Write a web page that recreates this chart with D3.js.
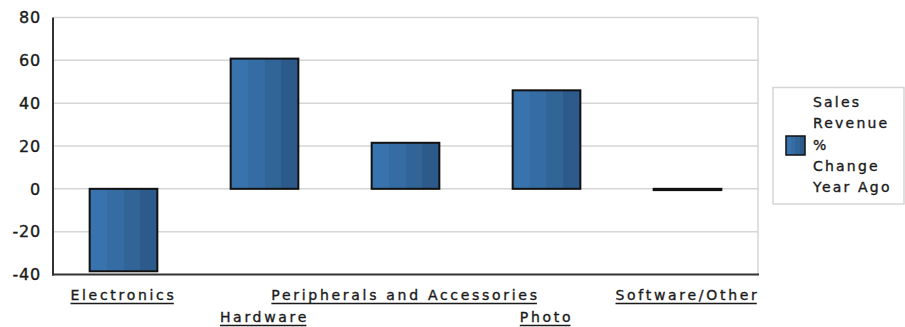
<!DOCTYPE html>
<html>
<head>
<meta charset="utf-8">
<script src="https://cdn.jsdelivr.net/npm/d3@7"></script>
<style>
  html, body { margin: 0; padding: 0; background: #fff; }
  svg { display: block; }
  text { font-family: "DejaVu Sans", Verdana, sans-serif; fill: #1a1a1a; stroke: #1a1a1a; stroke-width: 0.35px; }
</style>
</head>
<body>
<svg id="chart" width="905" height="327"></svg>
<script>
// Categories and their year-over-year change in sales revenue (%)
const categories = ["Electronics", "Hardware", "Peripherals and Accessories", "Photo", "Software/Other"];
const changePct = [-38.5, 60.8, 21.5, 46, -0.6];
const yTicks = [-40, -20, 0, 20, 40, 60, 80];
const legendLines = ["Sales", "Revenue", "%", "Change", "Year Ago"];

const svg = d3.select("#chart");
const margin = { left: 53, right: 147, top: 17.5, bottom: 52.5 };
const W = 905, H = 327;

const x = d3.scaleBand()
  .domain(categories)
  .range([margin.left, W - margin.right])
  .paddingInner(0.52)
  .paddingOuter(0.26);

const y = d3.scaleLinear()
  .domain([-40, 80])
  .range([H - margin.bottom, margin.top]);

// Stepped blue shading used by the bars and the legend swatch
const defs = svg.append("defs");
const grad = defs.append("linearGradient").attr("id", "barShade")
  .attr("x1", "0%").attr("x2", "100%").attr("y1", "0%").attr("y2", "0%");
const bands = ["#3873ae", "#356ca3", "#316597", "#2c5a8a"];
bands.forEach((c, i) => {
  grad.append("stop").attr("offset", (i / bands.length) * 100 + "%").attr("stop-color", c);
  grad.append("stop").attr("offset", ((i + 1) / bands.length) * 100 + "%").attr("stop-color", c);
});

// Gridlines
svg.append("g")
  .selectAll("line")
  .data(yTicks.filter(t => t !== -40))
  .join("line")
  .attr("x1", margin.left).attr("x2", W - margin.right)
  .attr("y1", d => y(d)).attr("y2", d => y(d))
  .attr("stroke", "#d6d6d6").attr("stroke-width", 1.5);

// Right frame edge
svg.append("line")
  .attr("x1", W - margin.right).attr("x2", W - margin.right)
  .attr("y1", y(80)).attr("y2", y(-40))
  .attr("stroke", "#d6d6d6").attr("stroke-width", 1.5);

// Bars
svg.append("g")
  .selectAll("rect")
  .data(categories.map((c, i) => ({ c, v: changePct[i] })))
  .join("rect")
  .attr("x", d => x(d.c))
  .attr("width", x.bandwidth())
  .attr("y", d => y(Math.max(0, d.v)))
  .attr("height", d => Math.abs(y(d.v) - y(0)))
  .attr("fill", "url(#barShade)")
  .attr("stroke", "#111")
  .attr("stroke-width", 2);

// Axis lines
svg.append("line")
  .attr("x1", margin.left).attr("x2", margin.left)
  .attr("y1", y(80)).attr("y2", y(-40) + 1)
  .attr("stroke", "#333").attr("stroke-width", 2);
svg.append("line")
  .attr("x1", margin.left - 1).attr("x2", W - margin.right + 1)
  .attr("y1", y(-40)).attr("y2", y(-40))
  .attr("stroke", "#333").attr("stroke-width", 2);

// Y tick labels
svg.append("g")
  .selectAll("text")
  .data(yTicks)
  .join("text")
  .attr("x", 41)
  .attr("y", d => y(d))
  .attr("dy", "0.36em")
  .attr("text-anchor", "end")
  .style("font-size", "16px")
  .style("letter-spacing", "0.8px")
  .text(d => d);

// Category labels, staggered on two rows and underlined
const rowBase = [300, 322];
const xl = svg.append("g").selectAll("g")
  .data(categories)
  .join("g");
xl.append("text")
  .attr("x", d => x(d) + x.bandwidth() / 2)
  .attr("y", (d, i) => rowBase[i % 2])
  .attr("text-anchor", "middle")
  .style("font-size", "14px")
  .style("letter-spacing", "2.7px")
  .text(d => d);
xl.each(function (d, i) {
  const t = d3.select(this).select("text");
  const bb = t.node().getBBox();
  d3.select(this).append("line")
    .attr("x1", bb.x).attr("x2", bb.x + bb.width - 2.7)
    .attr("y1", rowBase[i % 2] + 3.5).attr("y2", rowBase[i % 2] + 3.5)
    .attr("stroke", "#1a1a1a").attr("stroke-width", 1.5);
});

// Legend
const lg = svg.append("g");
lg.append("rect")
  .attr("x", 773).attr("y", 87.5).attr("width", 131).attr("height", 116.5)
  .attr("fill", "#fff").attr("stroke", "#d6d6d6").attr("stroke-width", 1.5);
lg.append("rect")
  .attr("x", 786).attr("y", 136).attr("width", 19).attr("height", 19)
  .attr("fill", "url(#barShade)").attr("stroke", "#111").attr("stroke-width", 1.5);
lg.append("text")
  .style("font-size", "14px")
  .style("letter-spacing", "2.2px")
  .selectAll("tspan")
  .data(legendLines)
  .join("tspan")
  .attr("x", 813)
  .attr("y", (d, i) => 107 + i * 21.3)
  .text(d => d);
</script>
</body>
</html>
